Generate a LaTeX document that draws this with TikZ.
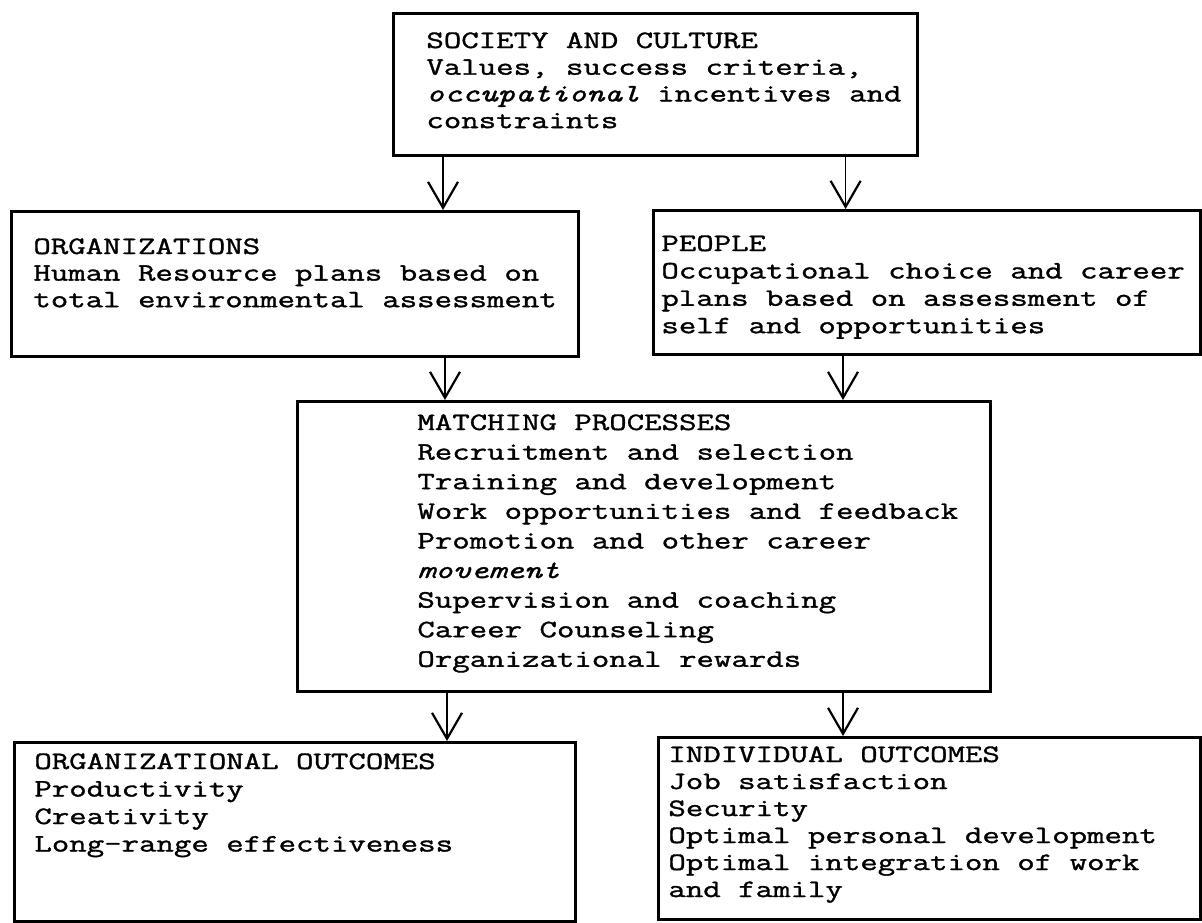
\documentclass[tikz,border=0pt]{standalone}
\usepackage{fontspec}
\setmonofont{Latin Modern Mono}[FakeStretch=1.355, FakeBold=1.4]
\usetikzlibrary{arrows.meta,positioning}

\begin{document}
\begin{tikzpicture}[
  x=0.5pt, y=-0.5pt,
  frame/.style={draw, line width=1.3pt, anchor=north west, inner sep=0pt},
  body/.style={anchor=base west, align=flush left, inner sep=0pt, font=\ttfamily\fontsize{12.5pt}{#1}\selectfont},
  body/.default=14pt,
  arrow/.style={line width=0.7pt, -{Straight Barb[length=13pt, width=15pt, line width=1.1pt]}}
]
\useasboundingbox (0,0) rectangle (1202,922);
% boxes
\node[frame, minimum width=262pt, minimum height=71pt] (society) at (392,12) {};
\node[frame, minimum width=283.5pt, minimum height=72.5pt] (org) at (10,210) {};
\node[frame, minimum width=273.5pt, minimum height=72pt] (people) at (652,209) {};
\node[frame, minimum width=346.5pt, minimum height=145pt] (matching) at (296,400) {};
\node[frame, minimum width=280.5pt, minimum height=89.5pt] (orgout) at (13,741) {};
\node[frame, minimum width=271pt, minimum height=91pt] (indout) at (657,736) {};
% texts
\node[body=13.35pt, text width=246pt] (societytext) at ([shift={(34,36)}]society.north west)
  {SOCIETY AND CULTURE\\Values, success criteria,\\\textit{occupational} incentives and\\constraints};
\node[body=13.3pt, text width=272pt] (orgtext) at ([shift={(23,44)}]org.north west)
  {ORGANIZATIONS\\Human Resource plans based on\\total environmental assessment};
\node[body=13.7pt, text width=270pt] (peopletext) at ([shift={(9,42)}]people.north west)
  {PEOPLE\\Occupational choice and career\\plans based on assessment of\\self and opportunities};
\node[body=14.8pt, text width=285pt] (matchingtext) at ([shift={(121,30)}]matching.north west)
  {MATCHING PROCESSES\\Recruitment and selection\\Training and development\\Work opportunities and feedback\\Promotion and other career\\\textit{movement}\\Supervision and coaching\\Career Counseling\\Organizational rewards};
\node[body=13.75pt, text width=269pt] (orgouttext) at ([shift={(21,28)}]orgout.north west)
  {ORGANIZATIONAL OUTCOMES\\Productivity\\Creativity\\Long-range effectiveness};
\node[body=13.5pt, text width=265pt] (indouttext) at ([shift={(11,26)}]indout.north west)
  {INDIVIDUAL OUTCOMES\\Job satisfaction\\Security\\Optimal personal development\\Optimal integration of work\\and family};
% arrows
\draw[arrow] ([xshift=25.5pt]society.south west) -- ([xshift=25.5pt]society.south west |- org.north);
\draw[arrow] ([xshift=-36.5pt]society.south east) -- ([xshift=-36.5pt]society.south east |- people.north);
\draw[arrow] ([xshift=217.5pt]org.south west) -- ([xshift=217.5pt]org.south west |- matching.north);
\draw[arrow] ([xshift=95.5pt]people.south west) -- ([xshift=95.5pt]people.south west |- matching.north);
\draw[arrow] ([xshift=75.5pt]matching.south west) -- ([xshift=75.5pt]matching.south west |- orgout.north);
\draw[arrow] ([xshift=273.5pt]matching.south west) -- ([xshift=273.5pt]matching.south west |- indout.north);
\end{tikzpicture}
\end{document}
